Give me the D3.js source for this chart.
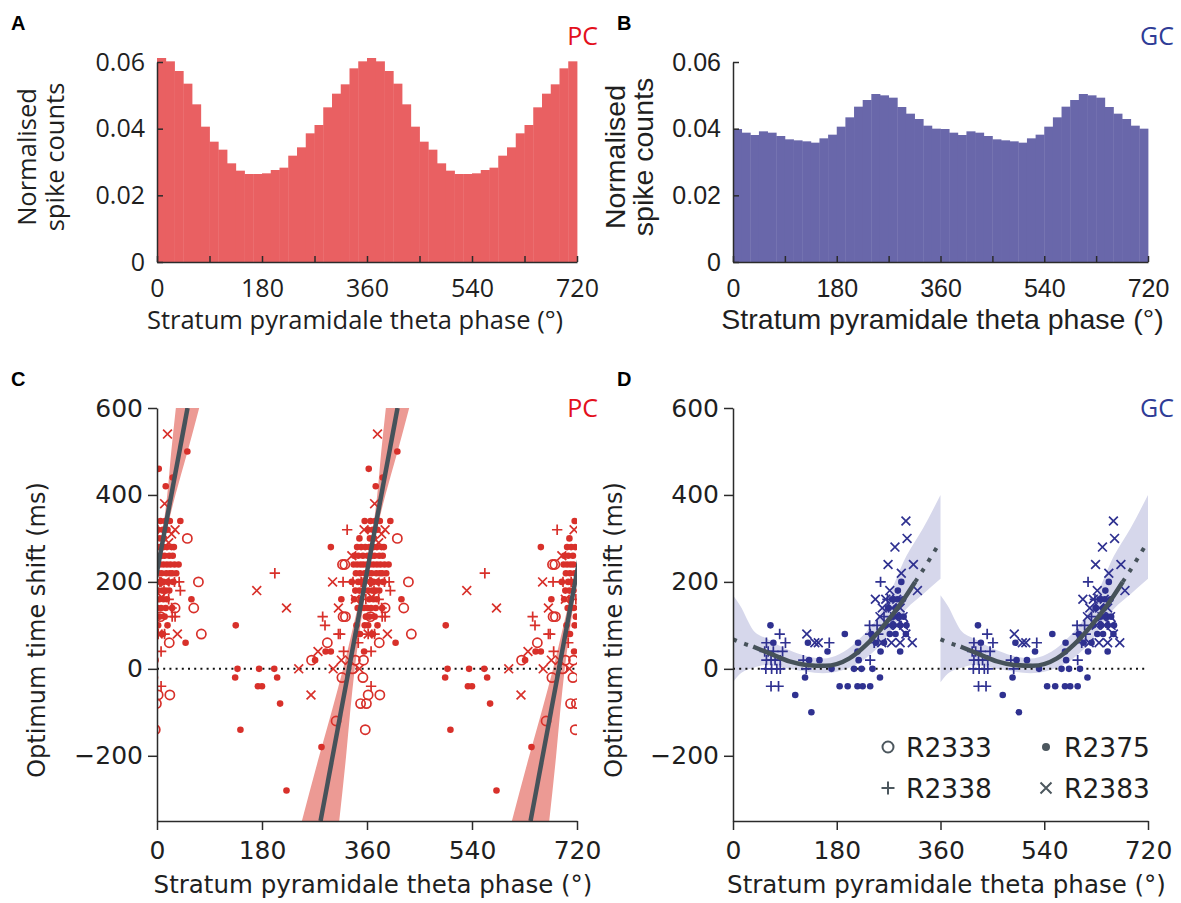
<!DOCTYPE html>
<html>
<head>
<meta charset="utf-8">
<script src="https://cdn.jsdelivr.net/npm/d3@7"></script>
<style>
  body { margin: 0; background: #fff; }
</style>
</head>
<body>
<div id="fig"></div>
<script>
// ---- data ----
const phaseTicks = [0, 180, 360, 540, 720];
const phaseMinor = [0, 90, 180, 270, 360, 450, 540, 630, 720];
const histTicks = [0, 0.02, 0.04, 0.06];
const shiftTicks = [-200, 0, 200, 400, 600];
const ratNames = ["R2333", "R2375", "R2338", "R2383"];

// normalised spike counts, 15 deg bins, 0..720 (phase is double plotted)
const pcHist = [
  0.0612, 0.0602, 0.0573, 0.0535, 0.0473, 0.0406, 0.0361, 0.0337, 0.0296, 0.0274, 0.0264, 0.0264,
  0.0266, 0.0276, 0.0283, 0.0319, 0.0344, 0.0386, 0.0411, 0.0464, 0.0505, 0.0533, 0.0581, 0.0602,
  0.0612, 0.0602, 0.0573, 0.0535, 0.0473, 0.0406, 0.0361, 0.0337, 0.0296, 0.0274, 0.0264, 0.0264,
  0.0266, 0.0276, 0.0283, 0.0319, 0.0344, 0.0386, 0.0411, 0.0464, 0.0505, 0.0533, 0.0581, 0.0602
];
const gcHist = [
  0.0399, 0.0388, 0.0381, 0.0392, 0.0388, 0.0378, 0.0368, 0.0365, 0.0362, 0.0358, 0.0371, 0.0382,
  0.0406, 0.0434, 0.0466, 0.0486, 0.0504, 0.0500, 0.0493, 0.0465, 0.0445, 0.0429, 0.0409, 0.0400,
  0.0399, 0.0388, 0.0381, 0.0392, 0.0388, 0.0378, 0.0368, 0.0365, 0.0362, 0.0358, 0.0371, 0.0382,
  0.0406, 0.0434, 0.0466, 0.0486, 0.0504, 0.0500, 0.0493, 0.0465, 0.0445, 0.0429, 0.0409, 0.0400
];

// optimum time shift per cell: [phase (deg, one cycle), shift (ms)]
const pcR2333 = [
  [52,300],[71,200],[322,240],[318,240],[63,140],[31,140],[6,120],[319,120],[323,120],[76,80],[21,60],[292,60],
  [354,20],[340,20],[265,20],[335,0],[317,-20],[353,-20],[2,-60],[22,-60],[349,-80],[359,-80],[307,-120],[357,-140]
];
const pcR2375 = [
  [3,460],[52,500],[27,440],[15,420],
  [6,340],[14,340],[22,340],[40,340],[356,340],
  [2,320],[10,320],[18,320],
  [5,300],[12,300],[347,300],
  [298,280],[4,280],[11,280],[17,280],[25,280],[29,280],[343,280],[350,280],[357,280],
  [1,260],[8,260],[13,260],[21,260],[27,260],[338,260],[345,260],[353,260],
  [0,240],[5,240],[11,240],[17,240],[23,240],[30,240],[37,240],[337,240],[343,240],[349,240],[354,240],
  [3,220],[8,220],[16,220],[22,220],[26,220],[33,220],[341,220],[348,220],[356,220],
  [6,200],[11,200],[19,200],[28,200],[334,200],[345,200],[351,200],
  [2,180],[9,180],[15,180],[21,180],[340,180],[347,180],[354,180],
  [4,160],[11,160],[17,160],[59,160],[316,160],[338,160],[349,160],
  [1,140],[7,140],[15,140],[26,140],[344,140],[355,140],
  [4,120],[13,120],[358,120],
  [2,100],[18,100],[135,100],[342,100],[356,100],
  [10,80],[348,80],[343,80],
  [49,60],
  [289,40],[298,40],[355,40],
  [271,20],
  [138,0],[175,0],[201,0],
  [134,-20],[206,-20],
  [173,-40],[180,-40],
  [211,-80],[143,-140],[282,-180],[222,-280]
];
const pcR2338 = [
  [202,220],[284,120],[288,100],[314,80],[326,320],[319,200],[336,200],[311,80],[320,40],
  [7,40],[7,-40],[13,80],[38,200],[40,180],[25,140],[26,120],[31,120],[20,160],[5,200],[350,200],
  [358,160],[2,80],[345,60],[12,180],[30,200]
];
const pcR2383 = [
  [18,540],[13,380],[31,320],[25,310],[355,320],[334,260],[301,200],[0,200],[311,140],[35,80],[2,80],
  [243,0],[302,0],[276,40],[316,20],[264,-60],[171,180],[222,140],[14,200],[8,165],[20,290],[340,160],
  [330,20],[347,0]
];

const gcR2375 = [
  [65,100],[70,60],[130,60],[164,40],[150,20],[132,20],[171,0],[125,-20],[108,-60],[136,-100],
  [194,80],[217,60],[216,40],[218,20],[210,0],[223,0],[242,0],[255,-20],
  [185,-40],[199,-40],[216,-40],[225,-40],[238,-40],
  [256,40],[290,40],[292,200],[272,80],[282,80],[290,100],[269,140],[276,160],[285,160],
  [278,120],[288,120],[296,120],[265,100],[300,80],[301,100],[283,140],[262,60],[240,80],
  [248,60],[278,100],[295,160],[286,180]
];
const gcR2338 = [
  [58,60],[81,80],[91,60],[55,40],[61,40],[70,40],[86,40],[58,20],[66,20],[73,20],[82,20],
  [57,0],[67,0],[76,0],[82,0],[66,-40],[79,-40],
  [122,20],[127,0],[167,60],[238,20],[237,100],[250,100],[256,200],[238,80],[252,80],[262,120],
  [245,60],[268,160]
];
const gcR2383 = [
  [300,340],[302,300],[281,280],[269,240],[313,240],[292,220],[320,180],[272,180],[247,160],[284,160],
  [255,120],[259,140],[276,140],[295,120],[311,60],[300,80],[128,80],[142,60],[148,60],[265,160],
  [280,120],[290,140],[270,100],[285,100],[296,100],[275,60],[258,60],[290,60]
];

// PC circular-linear fit: shift = slope * (phase - zero)
const pcFitZero = 329;
const pcFitSlope = 7.2;
const pcBandShift = [-350, -200, -100, 0, 100, 200, 250, 300, 400, 500, 600];
const pcBandHalf  = [32, 23, 16, 10, 6, 3, 2.5, 3, 7, 14, 20];

// GC fit curve and its confidence band
const gcFitPhase = [0, 19, 35, 70, 98, 127, 160, 202, 231, 260, 289, 316, 327, 337, 347, 360];
const gcFitShift = [68, 58, 51, 32, 17, 9, 7, 24, 55, 97, 146, 200, 222, 243, 265, 293];
const gcFitSolid = [35, 316];
const gcBandPhase = [0, 12, 35, 58, 98, 156, 214, 260, 301, 330, 360];
const gcBandLo    = [-31, -12, 2, 9, 0, -10, 10, 62, 138, 172, 207];
const gcBandHi    = [169, 146, 89, 70, 43, 24, 62, 138, 260, 324, 400];

// ---- drawing ----
const W = 1181, H = 903;
const ink = "#1f1f1f";
const svg = d3.select("#fig").append("svg").attr("width", W).attr("height", H);

function styleAxis(g, font, size) {
  g.select(".domain").attr("stroke", "#2b2b2b").attr("stroke-width", 1.5);
  g.selectAll(".tick line").attr("stroke", "#2b2b2b").attr("stroke-width", 1.5);
  g.selectAll(".tick text").attr("fill", ink)
    .style("font-family", font).style("font-size", size + "px");
}

function histPanel(o) {
  const x = d3.scaleLinear().domain([0, 720]).range([o.x0, o.x1]);
  const y = d3.scaleLinear().domain([0, 0.06]).range([262, 62]);
  const bin = 720 / o.data.length;
  const g = svg.append("g");

  g.selectAll("rect").data(o.data).join("rect")
    .attr("x", (d, i) => x(i * bin))
    .attr("width", x(bin) - x(0) + 0.4)
    .attr("y", d => y(d))
    .attr("height", d => y(0) - y(d))
    .attr("fill", o.color);

  const xa = g.append("g").attr("transform", `translate(0,${y(0)})`)
    .call(d3.axisBottom(x).tickValues(phaseMinor)
      .tickFormat(d => phaseTicks.includes(d) ? d : "")
      .tickSizeInner(-6).tickSizeOuter(0).tickPadding(17));
  styleAxis(xa, o.font, o.tickSize);

  const ya = g.append("g").attr("transform", `translate(${o.x0},0)`)
    .call(d3.axisLeft(y).tickValues(histTicks)
      .tickFormat(d => d === 0 ? "0" : d3.format(".2f")(d))
      .tickSizeInner(-6).tickSizeOuter(0).tickPadding(12));
  styleAxis(ya, o.font, o.tickSize);

  g.append("text").attr("x", (o.x0 + o.x1) / 2 + o.xlabShift).attr("y", 329)
    .attr("text-anchor", "middle").attr("fill", ink)
    .style("font-family", o.font).style("font-size", o.labelSize + "px")
    .text("Stratum pyramidale theta phase (°)");

  [["Normalised", o.ylab1], ["spike counts", o.ylab2]].forEach(([t, bx]) => {
    g.append("text").attr("transform", `translate(${bx},157) rotate(-90)`)
      .attr("text-anchor", "middle").attr("fill", ink)
      .style("font-family", o.font).style("font-size", o.labelSize + "px")
      .text(t);
  });

  g.append("text").attr("x", o.titleX).attr("y", 45).attr("text-anchor", "end")
    .attr("fill", o.titleColor)
    .style("font-family", "'Open Sans', sans-serif").style("font-size", "25px")
    .text(o.title);
  g.append("text").attr("x", o.letterX).attr("y", 30).attr("fill", "#000")
    .style("font-family", "'Liberation Sans', Arial, sans-serif")
    .style("font-size", "20px").style("font-weight", "bold").text(o.letter);
}

const fontA = "'Open Sans', sans-serif";
const fontB = "'Liberation Sans', Arial, sans-serif";
const fontCD = "'DejaVu Sans', sans-serif";

histPanel({ data: pcHist, color: "#e96062", x0: 157, x1: 577, font: fontA, tickSize: 25,
  labelSize: 25.5, xlabShift: -12, ylab1: 36, ylab2: 64, title: "PC", titleColor: "#e3101c",
  titleX: 598, letter: "A", letterX: 11 });
histPanel({ data: gcHist, color: "#6967aa", x0: 733, x1: 1148, font: fontB, tickSize: 25,
  labelSize: 28.5, xlabShift: 2, ylab1: 625, ylab2: 653, title: "GC", titleColor: "#2e3c96",
  titleX: 1174, letter: "B", letterX: 617 });

// marker shapes
function plusPath(s) { return `M${-s},0H${s}M0,${-s}V${s}`; }
function crossPath(s) { return `M${-s},${-s}L${s},${s}M${-s},${s}L${s},${-s}`; }

function drawMarkers(g, pts, kind, color, x, y, offsets) {
  const all = [];
  offsets.forEach(off => pts.forEach(p => all.push([p[0] + off, p[1]])));
  const sel = g.append("g");
  if (kind === "circle") {
    sel.selectAll("circle").data(all).join("circle")
      .attr("cx", d => x(d[0])).attr("cy", d => y(d[1])).attr("r", 4.6)
      .attr("fill", "none").attr("stroke", color).attr("stroke-width", 1.7);
  } else if (kind === "dot") {
    sel.selectAll("circle").data(all).join("circle")
      .attr("cx", d => x(d[0])).attr("cy", d => y(d[1])).attr("r", 3.3)
      .attr("fill", color);
  } else {
    const path = kind === "plus" ? plusPath(5.2) : crossPath(4.4);
    sel.selectAll("path").data(all).join("path")
      .attr("transform", d => `translate(${x(d[0])},${y(d[1])})`)
      .attr("d", path).attr("fill", "none").attr("stroke", color).attr("stroke-width", 1.7);
  }
}

function scatterFrame(o) {
  const x = d3.scaleLinear().domain([0, 720]).range([o.x0, o.x1]);
  const y = d3.scaleLinear().domain([-350, 600]).range([821, 408]);
  const g = svg.append("g");
  const clipId = "clip" + o.letter;
  svg.append("clipPath").attr("id", clipId).append("rect")
    .attr("x", o.x0).attr("y", y(600)).attr("width", o.x1 - o.x0).attr("height", y(-350) - y(600));
  const plot = g.append("g").attr("clip-path", `url(#${clipId})`);
  return { x, y, g, plot };
}

function scatterAxes(o, f) {
  const { x, y, g } = f;
  const xa = g.append("g").attr("transform", `translate(0,${y(-350)})`)
    .call(d3.axisBottom(x).tickValues(phaseTicks).tickSizeInner(9).tickSizeOuter(0).tickPadding(11));
  styleAxis(xa, fontCD, 25);
  const ya = g.append("g").attr("transform", `translate(${o.x0},0)`)
    .call(d3.axisLeft(y).tickValues(shiftTicks)
      .tickFormat(d => d < 0 ? "\u2212" + Math.abs(d) : d)
      .tickSizeInner(9).tickSizeOuter(0).tickPadding(5));
  styleAxis(ya, fontCD, 25);

  g.append("text").attr("x", (o.x0 + o.x1) / 2 + 6).attr("y", 893)
    .attr("text-anchor", "middle").attr("fill", ink)
    .style("font-family", fontCD).style("font-size", "24.5px")
    .text("Stratum pyramidale theta phase (°)");
  g.append("text").attr("transform", `translate(${o.ylabX},630) rotate(-90)`)
    .attr("text-anchor", "middle").attr("fill", ink)
    .style("font-family", fontCD).style("font-size", "24px")
    .text("Optimum time shift (ms)");
  g.append("text").attr("x", o.titleX).attr("y", 417).attr("text-anchor", "end")
    .attr("fill", o.titleColor)
    .style("font-family", "'Open Sans', sans-serif").style("font-size", "25px")
    .text(o.title);
  g.append("text").attr("x", o.letterX).attr("y", 386).attr("fill", "#000")
    .style("font-family", "'Liberation Sans', Arial, sans-serif")
    .style("font-size", "20px").style("font-weight", "bold").text(o.letter);
}

const lineColor = "#46525a";

// ---- panel C ----
{
  const o = { x0: 157, x1: 577, letter: "C", letterX: 11, ylabX: 45, title: "PC",
    titleColor: "#e3101c", titleX: 598 };
  const f = scatterFrame(o);
  const { x, y, plot } = f;
  const copies = [-360, 0, 360];
  const center = s => pcFitZero + s / pcFitSlope;
  const band = pcBandShift.map((s, i) => ({ s, lo: center(s) - pcBandHalf[i], hi: center(s) + pcBandHalf[i] }));
  copies.forEach(off => {
    plot.append("path").datum(band)
      .attr("d", d3.area().curve(d3.curveMonotoneY)
        .y(d => y(d.s)).x0(d => x(d.lo + off)).x1(d => x(d.hi + off)))
      .attr("fill", "#ec9a94");
  });
  plot.append("line").attr("x1", x(0)).attr("x2", x(720)).attr("y1", y(0)).attr("y2", y(0))
    .attr("stroke", "#111").attr("stroke-width", 2).attr("stroke-dasharray", "2,4.2");
  const red = "#d8302a";
  drawMarkers(plot, pcR2333, "circle", red, x, y, copies);
  drawMarkers(plot, pcR2375, "dot", red, x, y, copies);
  drawMarkers(plot, pcR2338, "plus", red, x, y, copies);
  drawMarkers(plot, pcR2383, "cross", red, x, y, copies);
  copies.forEach(off => {
    plot.append("path").datum([-350, 600])
      .attr("d", d3.line().x(s => x(center(s) + off)).y(s => y(s)))
      .attr("stroke", lineColor).attr("stroke-width", 4.5).attr("fill", "none");
  });
  scatterAxes(o, f);
}

// ---- panel D ----
{
  const o = { x0: 733, x1: 1148, letter: "D", letterX: 617, ylabX: 622, title: "GC",
    titleColor: "#2e3c96", titleX: 1174 };
  const f = scatterFrame(o);
  const { x, y, plot, g } = f;
  const copies = [0, 360];
  const band = gcBandPhase.map((p, i) => ({ p, lo: gcBandLo[i], hi: gcBandHi[i] }));
  const fit = gcFitPhase.map((p, i) => ({ p, s: gcFitShift[i] }));
  copies.forEach(off => {
    plot.append("path").datum(band)
      .attr("d", d3.area().curve(d3.curveMonotoneX)
        .x(d => x(d.p + off)).y0(d => y(d.lo)).y1(d => y(d.hi)))
      .attr("fill", "#d6d7eb");
  });
  plot.append("line").attr("x1", x(0)).attr("x2", x(720)).attr("y1", y(0)).attr("y2", y(0))
    .attr("stroke", "#111").attr("stroke-width", 2).attr("stroke-dasharray", "2,4.2");
  const blue = "#2f3190";
  drawMarkers(plot, gcR2375, "dot", blue, x, y, copies);
  drawMarkers(plot, gcR2338, "plus", blue, x, y, copies);
  drawMarkers(plot, gcR2383, "cross", blue, x, y, copies);
  const fitLine = off => d3.line().curve(d3.curveMonotoneX).x(d => x(d.p + off)).y(d => y(d.s));
  copies.forEach(off => {
    const left = fit.filter(d => d.p <= gcFitSolid[0]);
    const right = fit.filter(d => d.p >= gcFitSolid[1]);
    const mid = fit.filter(d => d.p >= gcFitSolid[0] && d.p <= gcFitSolid[1]);
    [left, right].forEach(seg => {
      plot.append("path").datum(seg).attr("d", fitLine(off))
        .attr("stroke", lineColor).attr("stroke-width", 4).attr("fill", "none")
        .attr("stroke-dasharray", "4,8");
    });
    plot.append("path").datum(mid).attr("d", fitLine(off))
      .attr("stroke", lineColor).attr("stroke-width", 4.5).attr("fill", "none");
  });
  scatterAxes(o, f);

  // legend
  const gray = "#4c575e";
  const lg = g.append("g");
  const cols = [888, 1046], rows = [747, 788];
  const kinds = ["circle", "dot", "plus", "cross"];
  ratNames.forEach((name, i) => {
    const cx = cols[i % 2], cy = rows[Math.floor(i / 2)];
    const k = kinds[i];
    if (k === "circle") lg.append("circle").attr("cx", cx).attr("cy", cy).attr("r", 5.5)
      .attr("fill", "none").attr("stroke", gray).attr("stroke-width", 2);
    else if (k === "dot") lg.append("circle").attr("cx", cx).attr("cy", cy).attr("r", 4).attr("fill", gray);
    else lg.append("path").attr("transform", `translate(${cx},${cy})`)
      .attr("d", k === "plus" ? plusPath(6.5) : crossPath(5.5))
      .attr("stroke", gray).attr("stroke-width", 2).attr("fill", "none");
    lg.append("text").attr("x", cx + 18).attr("y", cy + 10).attr("fill", ink)
      .style("font-family", fontCD).style("font-size", "26.5px").text(name);
  });
}
</script>
</body>
</html>
